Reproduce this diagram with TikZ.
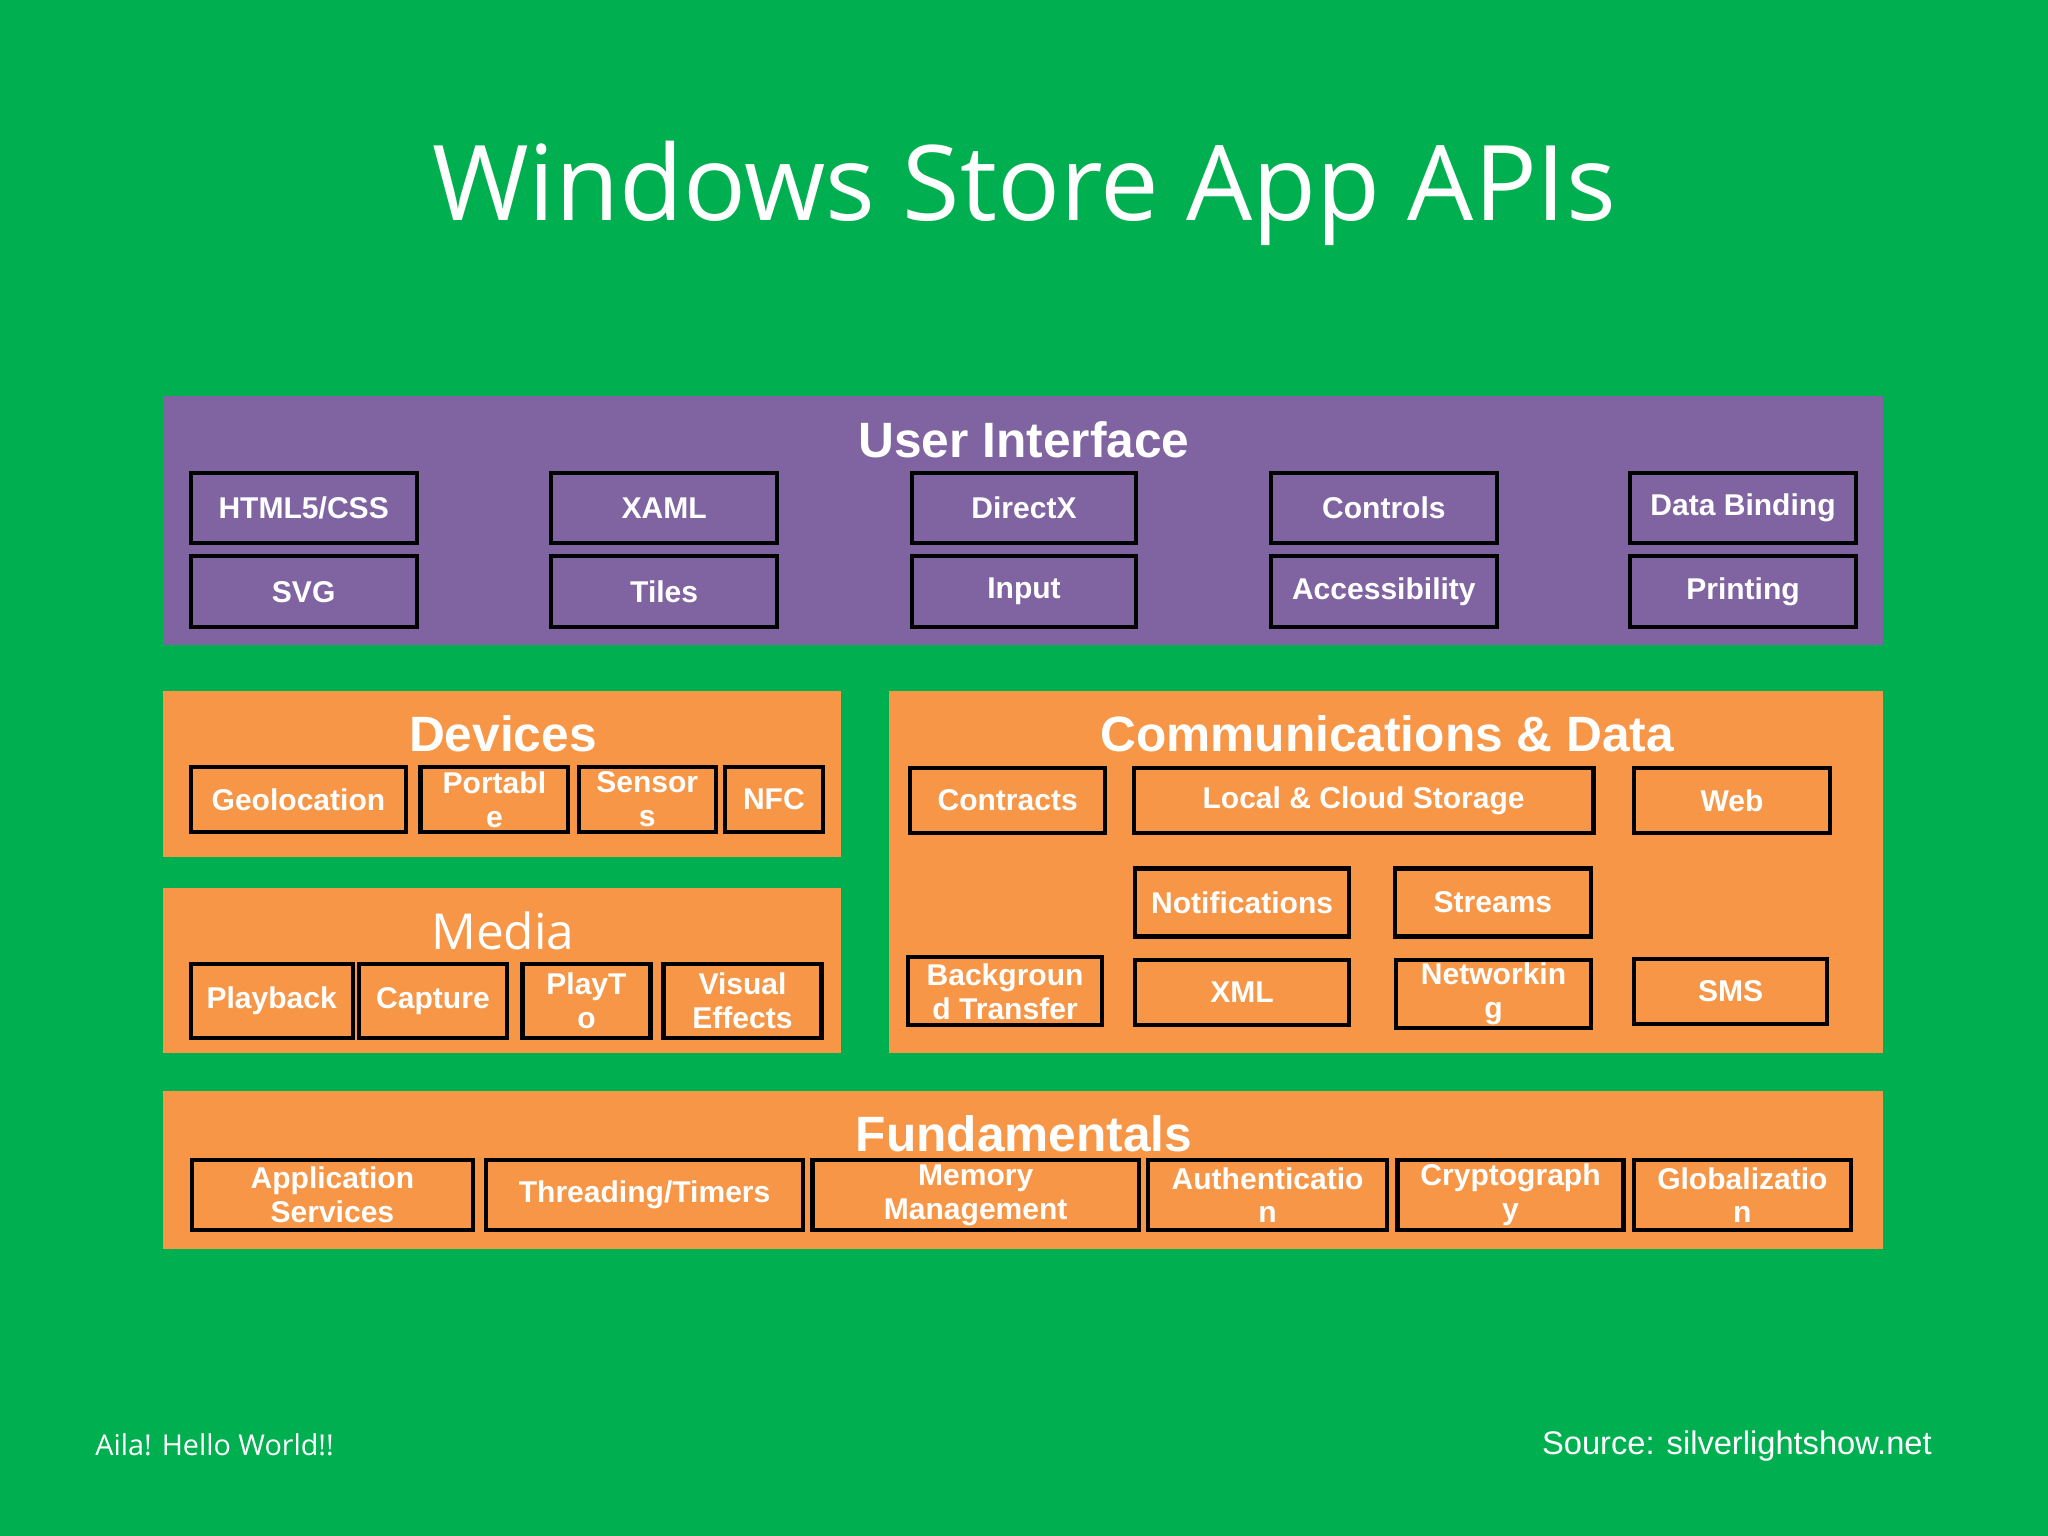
\documentclass[tikz,border=0pt]{standalone}
\usepackage{fontspec}
\setmainfont{Liberation Sans}
\newfontfamily\titlefont{Open Sans}
\usetikzlibrary{fit}
\definecolor{bg}{HTML}{00B050}
\definecolor{purp}{HTML}{8064A2}
\definecolor{orng}{HTML}{F79646}
\tikzset{
  panel/.style={inner sep=0pt, draw=none},
  box/.style={draw=black, line width=1.6pt, inner sep=0pt},
  btxt/.style={text=white, font=\fontsize{11.5}{13}\selectfont\bfseries, align=center, inner sep=0pt},
  ptitle/.style={text=white, font=\fontsize{19}{22}\selectfont\bfseries},
}
\newcommand{\mybx}[6]{\node[box, fit={(#2,-#3)(#4,-#5)}] (#1) {}; \node[btxt] at (#1) {#6};}
\begin{document}
\begin{tikzpicture}[x=0.5pt,y=0.5pt]
\fill[bg] (0,0) rectangle (1568,-1176);
\useasboundingbox (0,0) rectangle (1568,-1176);
\node[text=white, font=\titlefont\fontsize{40}{48}\selectfont] (title) at (784,-148) {Windows Store App APIs};
% User Interface
\node[panel, fill=purp, fit={(125,-303)(1442,-494)}] (ui) {};
\node[ptitle] (uit) at (784,-337) {User Interface};
\mybx{a1}{146}{362}{319}{416}{HTML5/CSS}
\mybx{a2}{422}{362}{595}{416}{XAML}
\mybx{a3}{698}{362}{870}{416}{DirectX}
\mybx{a4}{973}{362}{1146}{416}{Controls}
\mybx{a5}{1248}{362}{1421}{416}{Data Binding}
\mybx{b1}{146}{426}{319}{480}{SVG}
\mybx{b2}{422}{426}{595}{480}{Tiles}
\mybx{b3}{698}{426}{870}{480}{Input}
\mybx{b4}{973}{426}{1146}{480}{Accessibility}
\mybx{b5}{1248}{426}{1421}{480}{Printing}
% Devices
\node[panel, fill=orng, fit={(125,-529)(644,-656)}] (dev) {};
\node[ptitle] (devt) at (385,-562) {Devices};
\mybx{d1}{146}{587}{311}{637}{Geolocation}
\mybx{d2}{322}{587}{435}{637}{Portabl\\e}
\mybx{d3}{443}{587}{548}{637}{Sensor\\s}
\mybx{d4}{555}{587}{630}{637}{NFC}
% Media
\node[panel, fill=orng, fit={(125,-680)(644,-806)}] (med) {};
\node[text=white, font=\titlefont\fontsize{19}{22}\selectfont] (medt) at (385,-713) {Media};
\mybx{m1}{146}{738}{270}{795}{Playback}
\mybx{m2}{275}{738}{388}{795}{Capture}
\mybx{m3}{400}{738}{498}{795}{PlayT\\o}
\mybx{m4}{508}{738}{629}{795}{Visual\\Effects}
% Communications
\node[panel, fill=orng, fit={(681,-529)(1442,-806)}] (com) {};
\node[ptitle] (comt) at (1062,-562) {Communications \& Data};
\mybx{c1}{697}{588}{846}{638}{Contracts}
\mybx{c2}{868}{588}{1220}{638}{Local \& Cloud Storage}
\mybx{c3}{1251}{588}{1401}{638}{Web}
\mybx{c4}{869}{665}{1033}{717}{Notifications}
\mybx{c5}{1068}{665}{1218}{717}{Streams}
\mybx{c6}{695}{733}{844}{785}{Backgroun\\d Transfer}
\mybx{c7}{869}{735}{1033}{785}{XML}
\mybx{c8}{1069}{735}{1218}{787}{Networkin\\g}
\mybx{c9}{1251}{734}{1399}{784}{SMS}
% Fundamentals
\node[panel, fill=orng, fit={(125,-835)(1442,-956)}] (fun) {};
\node[ptitle] (funt) at (784,-868) {Fundamentals};
\mybx{f1}{147}{888}{362}{942}{Application\\Services}
\mybx{f2}{372}{888}{615}{942}{Threading/Timers}
\mybx{f3}{622}{888}{872}{942}{Memory\\Management}
\mybx{f4}{879}{888}{1062}{942}{Authenticatio\\n}
\mybx{f5}{1070}{888}{1243}{942}{Cryptograph\\y}
\mybx{f6}{1251}{888}{1417}{942}{Globalizatio\\n}
% footer
\node[anchor=west, text=white, font=\titlefont\fontsize{11}{13}\selectfont] (foot1) at (66,-1106) {Aila! Hello World!!};
\node[anchor=east, text=white, font=\fontsize{12.5}{15}\selectfont] (foot2) at (1486,-1107) {Source: silverlightshow.net};
\end{tikzpicture}
\end{document}
